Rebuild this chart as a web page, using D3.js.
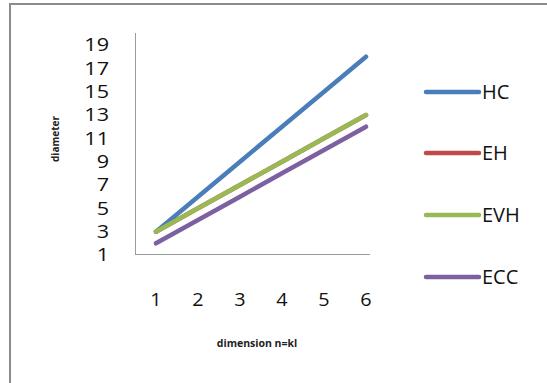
<!DOCTYPE html>
<html><head><meta charset="utf-8">
<script src="https://cdn.jsdelivr.net/npm/d3@7"></script>
<style>html,body{margin:0;padding:0;background:#fff;}svg{display:block;}</style>
</head><body>
<script>
const categories = [1, 2, 3, 4, 5, 6];
const seriesNames = ["HC", "EH", "EVH", "ECC"];
const hcValues = [3, 6, 9, 12, 15, 18];
const ehValues = [3, 5, 7, 9, 11, 13];
const evhValues = [3, 5, 7, 9, 11, 13];
const eccValues = [2, 4, 6, 8, 10, 12];
const yTicks = [1, 3, 5, 7, 9, 11, 13, 15, 17, 19];
const colors = ["#4a7ebb", "#be4b48", "#98b954", "#7d60a0"];

const series = [hcValues, ehValues, evhValues, eccValues].map((v, i) => ({name: seriesNames[i], values: v, color: colors[i]}));

const W = 547, H = 383;
const svg = d3.select("body").append("svg").attr("width", W).attr("height", H);
const font = "'Open Sans', 'Liberation Sans', sans-serif";

// outer border
svg.append("path").attr("d", `M10,${H} L10,4 L${W},4`).attr("fill", "none").attr("stroke", "#8c8c8c").attr("stroke-width", 2);

const x = d3.scaleLinear().domain([1, 6]).range([156, 366]);
const y = d3.scaleLinear().domain([1, 19]).range([255, 45]);

// axes lines
svg.append("line").attr("x1", 135.5).attr("x2", 135.5).attr("y1", 33).attr("y2", 254.5).attr("stroke", "#9a9a9a").attr("stroke-width", 1);
svg.append("line").attr("x1", 135).attr("x2", 370).attr("y1", 254.5).attr("y2", 254.5).attr("stroke", "#9a9a9a").attr("stroke-width", 1);

// y tick labels (slightly wide glyphs as in reference)
svg.append("g").selectAll("text").data(yTicks).join("text")
  .attr("transform", d => `translate(109,${y(d)}) scale(1.2,1)`).attr("dy", "0.36em")
  .attr("text-anchor", "end").attr("font-family", font).attr("font-size", 18).attr("fill", "#111")
  .text(d => d);

// x tick labels
svg.append("g").selectAll("text").data(categories).join("text")
  .attr("transform", d => `translate(${x(d)},300) scale(1.1,1)`).attr("dy", "0.36em")
  .attr("text-anchor", "middle").attr("font-family", font).attr("font-size", 18).attr("fill", "#111")
  .text(d => d);

// axis titles
svg.append("text").attr("x", 257).attr("y", 343).attr("dy", "0.35em").attr("text-anchor", "middle")
  .attr("font-family", font).attr("font-size", 10.5).attr("font-weight", "bold").attr("fill", "#222").text("dimension  n=kl");
svg.append("text").attr("transform", "translate(55,139) rotate(-90)").attr("dy", "0.35em").attr("text-anchor", "middle")
  .attr("font-family", font).attr("font-size", 10).attr("font-weight", "bold").attr("fill", "#222").text("diameter");

// lines
const line = d3.line().x((d, i) => x(categories[i])).y(d => y(d));
svg.append("g").selectAll("path").data(series).join("path")
  .attr("d", d => line(d.values)).attr("fill", "none").attr("stroke", d => d.color)
  .attr("stroke-width", 4.5).attr("stroke-linecap", "round").attr("stroke-linejoin", "round");

// legend
const legY = [92, 153, 215, 277];
const leg = svg.append("g").selectAll("g").data(series).join("g")
  .attr("transform", (d, i) => `translate(0,${legY[i]})`);
leg.append("line").attr("x1", 426).attr("x2", 479).attr("y1", 0).attr("y2", 0)
  .attr("stroke", d => d.color).attr("stroke-width", 4.5).attr("stroke-linecap", "round");
leg.append("text").attr("x", 482).attr("y", 0).attr("dy", "0.36em")
  .attr("font-family", font).attr("font-size", 20).attr("fill", "#111").text(d => d.name);
</script>
</body></html>
